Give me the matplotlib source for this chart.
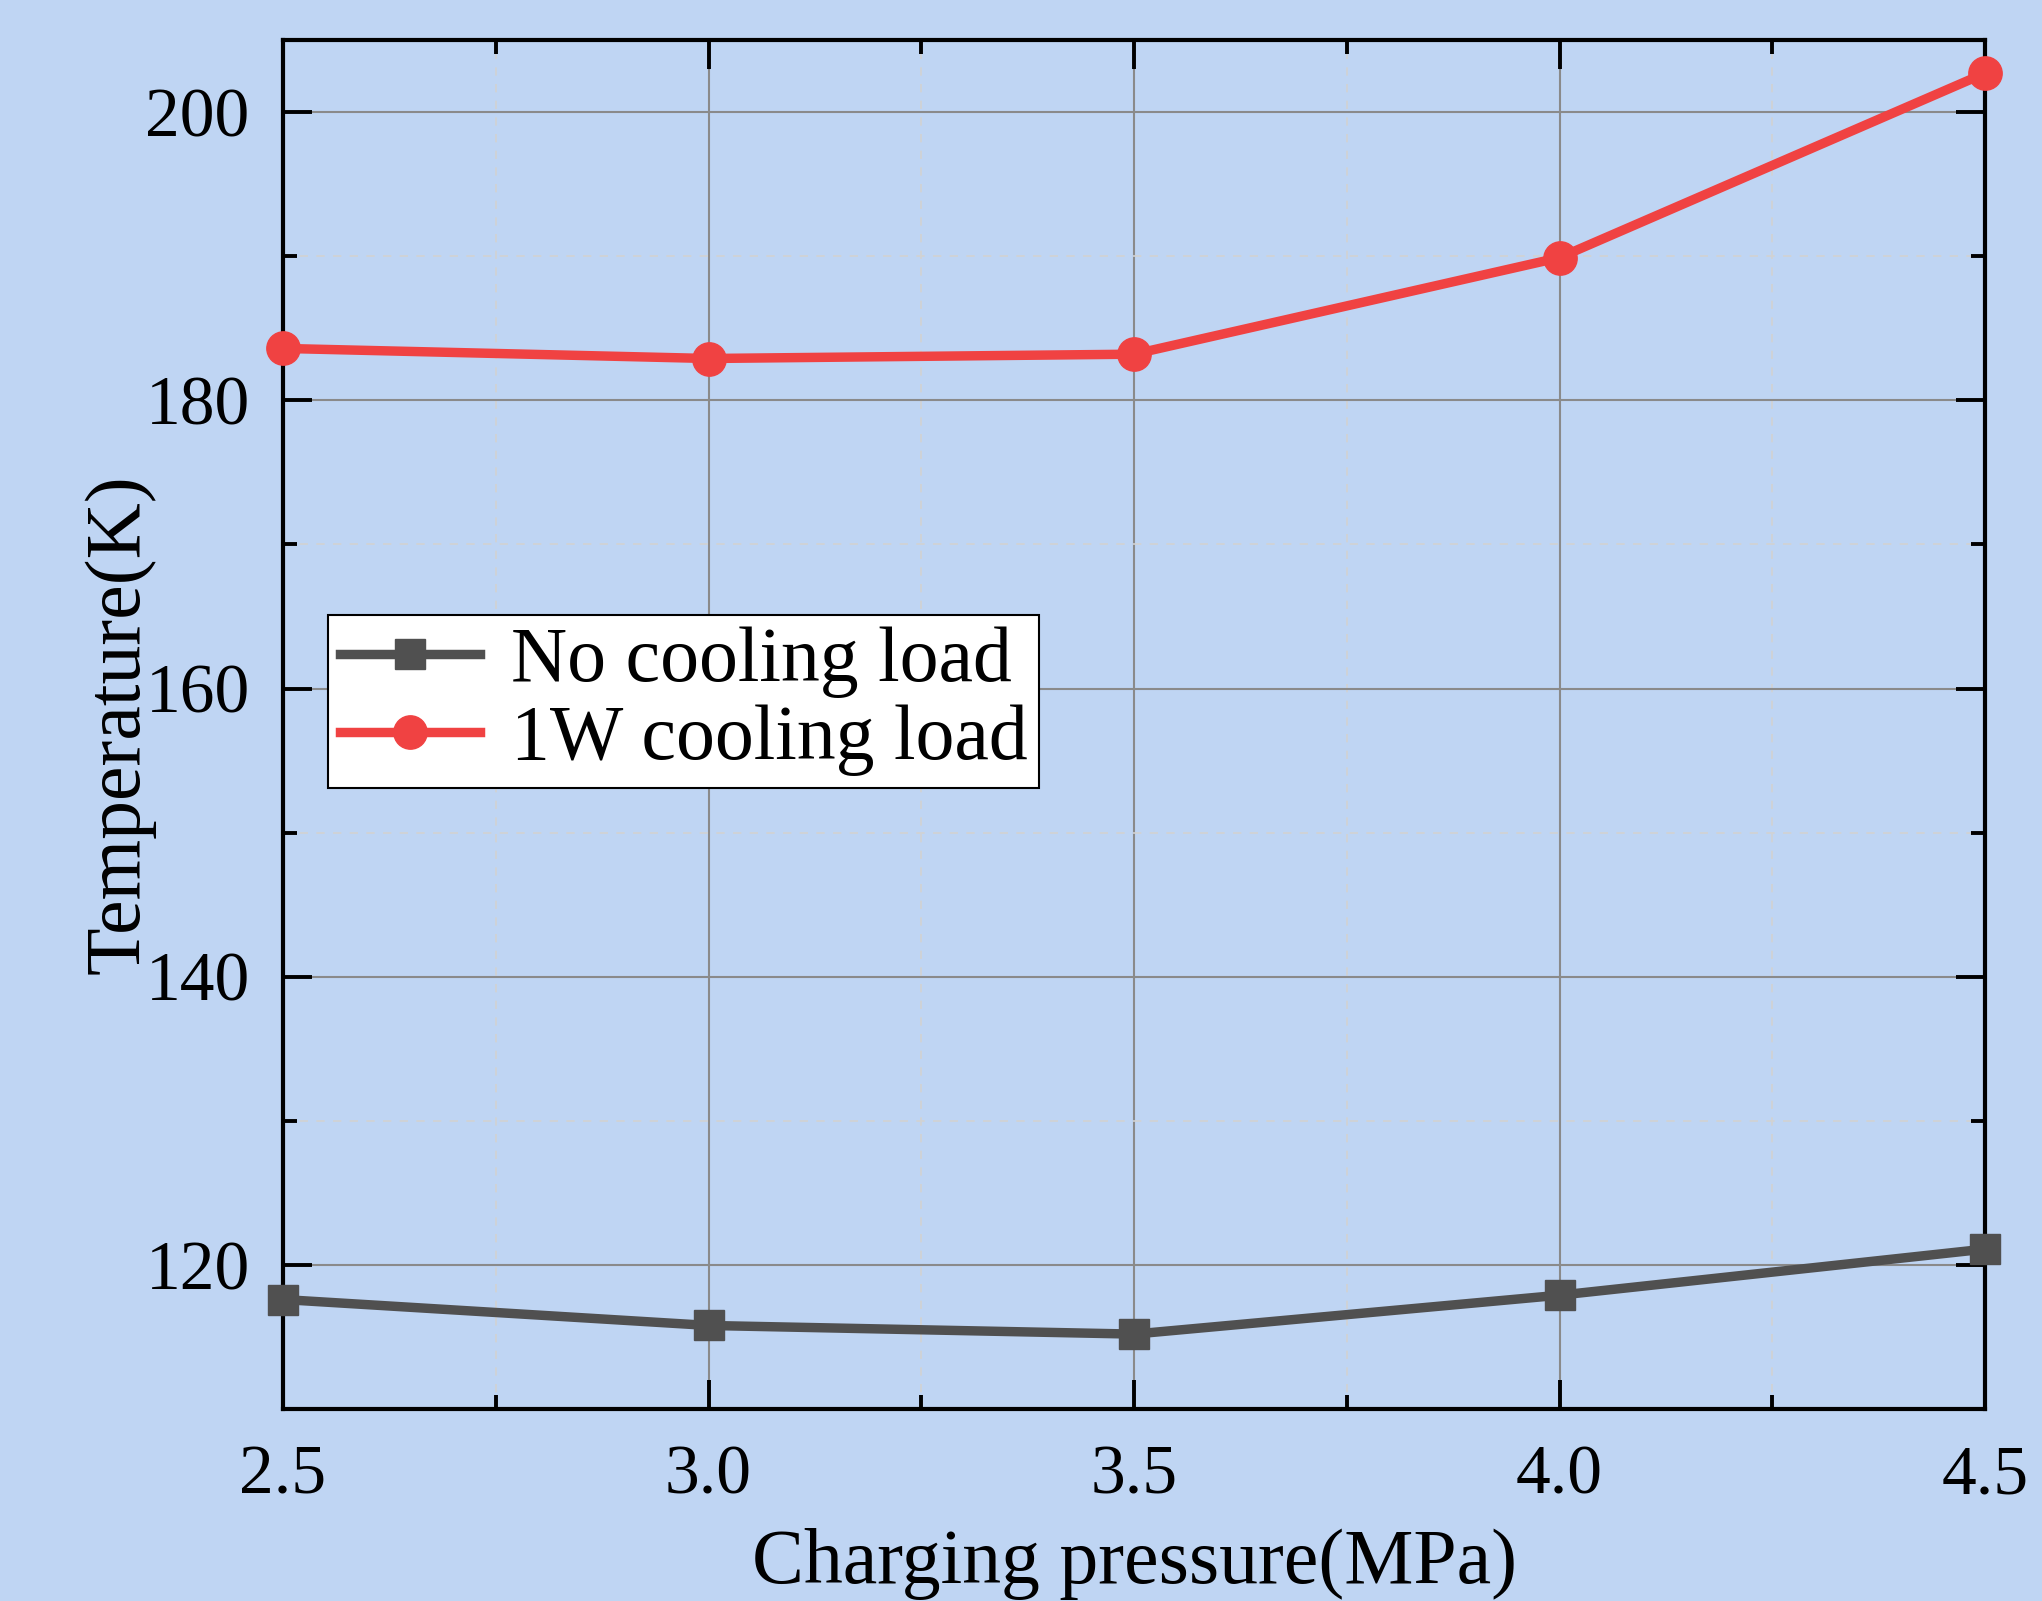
import matplotlib
matplotlib.use("Agg")
import matplotlib.pyplot as plt
from matplotlib.ticker import MultipleLocator

plt.rcParams['font.family'] = ['Liberation Serif', 'DejaVu Serif']

# data
pressure = [2.5, 3.0, 3.5, 4.0, 4.5]
temp_no_load = [117.6, 115.8, 115.2, 117.9, 121.1]
temp_1w_load = [183.6, 182.9, 183.2, 189.9, 202.7]
series_labels = ["No cooling load", "1W cooling load"]

bg = '#BFD5F3'
fig = plt.figure(figsize=(20.42, 16.01), dpi=100, facecolor=bg)
ax = fig.add_axes([0.1386, 0.1199, 0.8335, 0.8551], facecolor=bg)

ax.plot(pressure, temp_no_load, color='#505050', lw=6.8, marker='s', ms=21,
        label=series_labels[0], clip_on=False, zorder=5)
ax.plot(pressure, temp_1w_load, color='#F04242', lw=6.8, marker='o', ms=24,
        label=series_labels[1], clip_on=False, zorder=5)

ax.set_xlim(2.5, 4.5)
ax.set_ylim(110, 205)
ax.xaxis.set_major_locator(MultipleLocator(0.5))
ax.xaxis.set_minor_locator(MultipleLocator(0.25))
ax.yaxis.set_major_locator(MultipleLocator(20))
ax.yaxis.set_minor_locator(MultipleLocator(10))
ax.set_xticks(pressure)
ax.set_xticklabels([f"{p:.1f}" for p in pressure])

ax.grid(True, which='major', color='#8a8a8a', lw=1.5)
ax.grid(True, which='minor', color='#d2d2d2', lw=1.2, ls=(0, (5, 5)))
ax.set_axisbelow(True)

for s in ax.spines.values():
    s.set_linewidth(3)
ax.tick_params(which='both', direction='in', top=True, right=True, width=2.8,
               labelsize=50)
ax.tick_params(which='major', length=21)
ax.tick_params(which='minor', length=10)
ax.tick_params(axis='x', pad=26)
ax.tick_params(axis='y', pad=24)

ax.set_xlabel("Charging pressure(MPa)", fontsize=56, labelpad=14)
ax.set_ylabel("Temperature(K)", fontsize=56, labelpad=-7)

leg = ax.legend(loc='upper left', bbox_to_anchor=(0.0264, 0.58), borderaxespad=0,
                fontsize=56, fancybox=False, framealpha=1, edgecolor='black',
                handlelength=1.8, borderpad=0.15, labelspacing=0.08,
                handletextpad=0.4)
leg.get_frame().set_linewidth(1.5)

fig.savefig("out.png", dpi=100, facecolor=bg)
